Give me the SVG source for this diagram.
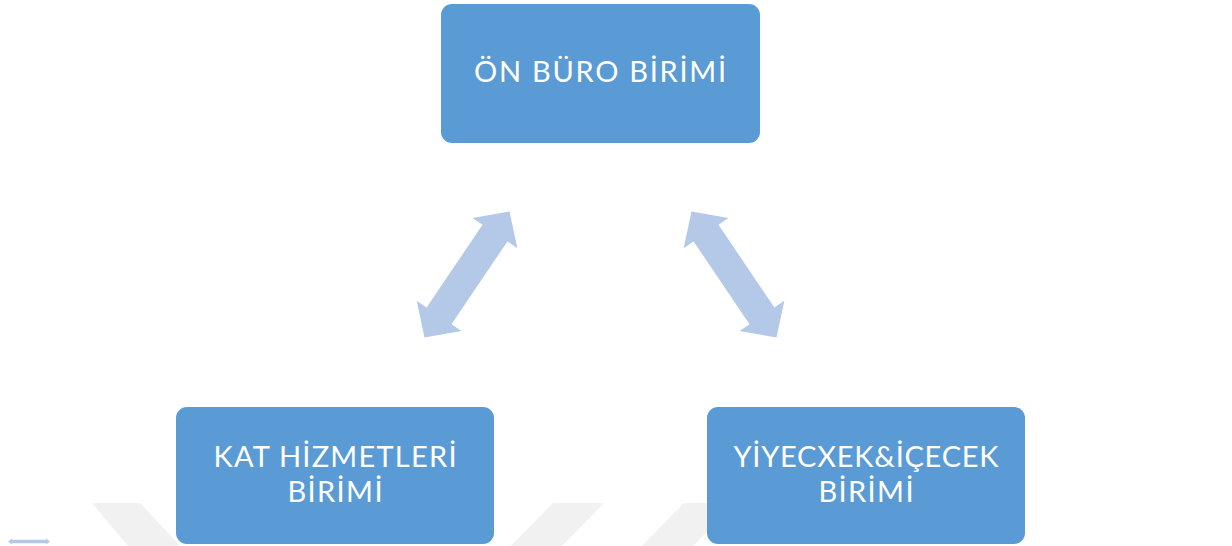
<svg xmlns="http://www.w3.org/2000/svg" width="1232" height="546" viewBox="0 0 1232 546">
<style>
.box{fill:#5B9BD5;}
.lbl{font-family:Lato,"Liberation Sans",sans-serif;font-size:29px;fill:#FFFFFF;text-anchor:middle;}
.arr{fill:#B4C9E7;}
.wm{fill:#F1F1F1;}
</style>
<defs>
<path id="dbl" d="M -76,0 L -50,-27 L -50,-15 L 50,-15 L 50,-27 L 76,0 L 50,27 L 50,15 L -50,15 L -50,27 Z"/>
</defs>
<rect width="1232" height="546" fill="#FFFFFF"/>
<g id="watermark">
<polygon class="wm" points="92,503 140,503 180,546 128,546"/>
<polygon class="wm" points="553,503 604,503 562,546 511,546"/>
<polygon class="wm" points="684,503 735,503 693,546 642,546"/>
</g>
<g id="connectors">
<use href="#dbl" class="arr" transform="translate(467,274.5) rotate(-56)"/>
<use href="#dbl" class="arr" transform="translate(734,274.5) rotate(56)"/>
<path class="arr" d="M 8,541.5 L 12,538.5 L 12,539.8 L 46,539.8 L 46,538.5 L 50,541.5 L 46,544.5 L 46,543.2 L 12,543.2 L 12,544.5 Z"/>
</g>
<g id="node-onburo">
<rect class="box" x="441" y="4" width="319" height="139" rx="11"/>
<text class="lbl" x="600" y="82" textLength="252" lengthAdjust="spacing">ÖN BÜRO BİRİMİ</text>
</g>
<g id="node-kat">
<rect class="box" x="176" y="407" width="318" height="137" rx="11"/>
<text class="lbl" x="335" y="467" textLength="243" lengthAdjust="spacing">KAT HİZMETLERİ</text>
<text class="lbl" x="335" y="502" textLength="95" lengthAdjust="spacing">BİRİMİ</text>
</g>
<g id="node-yiyecek">
<rect class="box" x="707" y="407" width="318" height="137" rx="11"/>
<text class="lbl" x="866" y="467" textLength="265" lengthAdjust="spacing">YİYECXEK&amp;İÇECEK</text>
<text class="lbl" x="866" y="502" textLength="95" lengthAdjust="spacing">BİRİMİ</text>
</g>
</svg>
